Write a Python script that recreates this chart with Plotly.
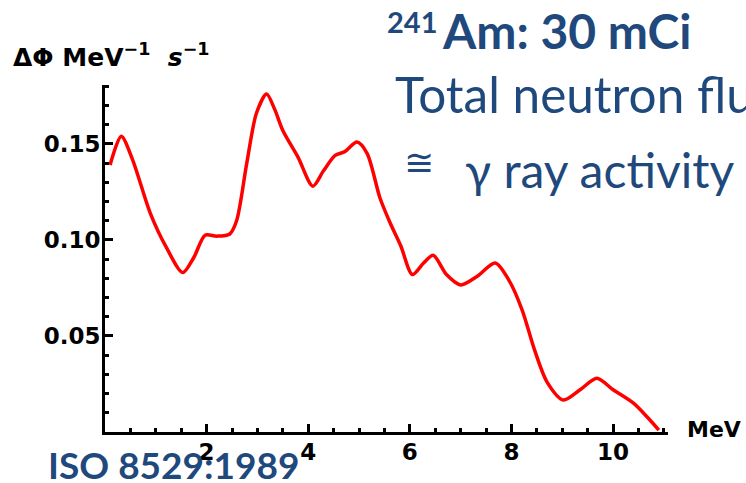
import plotly.graph_objects as go

# Neutron energy spectrum of a 241Am-Be source (ISO 8529:1989)
energy_mev = [0.10, 0.32, 0.54, 0.89, 1.21, 1.53, 1.75, 1.97, 2.20, 2.45, 2.59, 2.79,
              2.98, 3.18, 3.34, 3.50, 3.80, 4.09, 4.30, 4.53, 4.72, 4.96, 5.16, 5.41,
              5.61, 5.82, 6.05, 6.27, 6.46, 6.72, 7.00, 7.32, 7.68, 7.95, 8.21, 8.45,
              8.70, 9.02, 9.35, 9.68, 10.00, 10.40, 10.67, 10.90]
flux = [0.139, 0.154, 0.142, 0.114, 0.096, 0.083, 0.091, 0.1025, 0.102, 0.103, 0.110, 0.140,
        0.166, 0.176, 0.168, 0.157, 0.143, 0.128, 0.136, 0.144, 0.146, 0.151, 0.145, 0.122,
        0.109, 0.097, 0.082, 0.088, 0.092, 0.082, 0.0766, 0.081, 0.088, 0.079, 0.0635, 0.043,
        0.026, 0.0167, 0.022, 0.028, 0.022, 0.015, 0.0078, 0.001]

x_tick_vals = [2, 4, 6, 8, 10]
x_tick_text = ["2", "4", "6", "8", "10"]
y_tick_vals = [0.05, 0.10, 0.15]
y_tick_text = ["0.05", "0.10", "0.15"]

W, H = 746, 483
ML, MR, MT, MB = 105, 78, 85, 51
PW, PH = W - ML - MR, H - MT - MB

BLUE = "#1F497D"
AXIS_FONT = dict(family="DejaVu Sans", size=23, color="black", weight="bold")


def px(x):
    return (x - ML) / PW


def py(y):
    return (H - MB - y) / PH


fig = go.Figure()
fig.add_trace(go.Scatter(
    x=energy_mev, y=flux, mode="lines",
    line=dict(color="#FF0000", width=3.5, shape="spline", smoothing=0.8),
    showlegend=False, hoverinfo="skip",
))

axis_common = dict(
    showgrid=False, zeroline=False, showline=True, linecolor="black", linewidth=3,
    ticks="inside", tickcolor="black", tickwidth=3, ticklen=8,
    tickfont=AXIS_FONT,
)

fig.update_xaxes(
    range=[0, 11.08], tickmode="array", tickvals=x_tick_vals, ticktext=x_tick_text,
    ticklabelstandoff=-3,
    minor=dict(tickmode="linear", tick0=0, dtick=0.5, ticks="inside", ticklen=4,
               tickwidth=3, tickcolor="black", showgrid=False),
    **axis_common,
)
fig.update_yaxes(
    range=[0, 0.1807], tickmode="array", tickvals=y_tick_vals, ticktext=y_tick_text,
    ticklabelstandoff=-3,
    minor=dict(tickmode="linear", tick0=0, dtick=0.01, ticks="inside", ticklen=4,
               tickwidth=3, tickcolor="black", showgrid=False),
    **axis_common,
)


def label(text, x, y, size, family, color, weight="normal", style="normal"):
    fig.add_annotation(
        text=text, x=px(x), y=py(y), xref="paper", yref="paper",
        xanchor="left", yanchor="middle", showarrow=False, borderpad=0,
        font=dict(family=family, size=size, color=color, weight=weight, style=style),
    )


# axis titles
label("ΔΦ MeV<sup>−1</sup>  <i>s</i><sup>−1</sup>", 12, 55, 25, "DejaVu Sans", "black", "bold")
label("MeV", 686, 429, 22, "DejaVu Sans", "black", "bold")

# source notes
label("241", 386, 21, 29, "Lato", BLUE, "bold")
label("Am: 30 mCi", 441, 30, 48, "Lato", BLUE, "bold")
label("Total neutron flux", 394, 94, 49.5, "Lato", BLUE)
label("≅", 403, 162, 36, "DejaVu Sans", BLUE)
label("γ ray activity", 464, 169, 48, "Lato", BLUE)
label("ISO 8529:1989", 47, 464, 37, "Lato", BLUE, "bold")

fig.update_layout(
    width=W, height=H,
    margin=dict(l=ML, r=MR, t=MT, b=MB),
    paper_bgcolor="white", plot_bgcolor="white",
)

fig.write_html("out.html")
